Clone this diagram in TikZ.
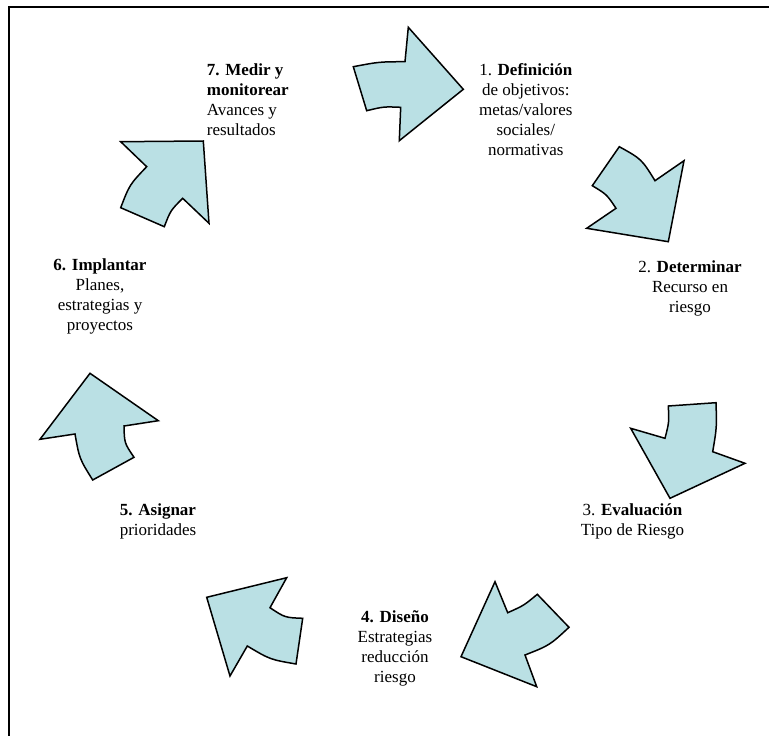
\documentclass[tikz,border=0pt]{standalone}
\usepackage{fontspec}
\setmainfont{Liberation Serif}
\definecolor{arrowfill}{RGB}{186,224,228}
\tikzset{
  cyclearrow/.style={draw=black, fill=arrowfill, line width=1.5pt, line join=miter},
  label/.style={align=center, inner sep=0pt, font=\fontsize{17}{20}\selectfont},
  frameline/.style={draw=black, line width=2pt}
}
\begin{document}
\begin{tikzpicture}[x=1pt,y=-1pt]
\useasboundingbox (0,0) rectangle (769,736);
% frame
\draw[frameline] (8.5,740) -- (8.5,7) -- (772,7);

% arrow 1 (top, pointing right)
\draw[cyclearrow] (353.3,66.7) .. controls (379.2,61.8) .. (405,61.7) -- (408.3,27.3) -- (463.3,89.3)
  -- (399.3,140.7) -- (400.7,107.3) .. controls (383.7,106.6) .. (366.7,110.7) -- cycle;
% arrow 2 (upper right, pointing down-right)
\draw[cyclearrow] (619.3,146.7) .. controls (641.6,159.1) .. (655,180.7) -- (684,160.7) -- (668.3,241.7)
  -- (586.7,228.3) -- (616,208.3) .. controls (606.7,194.4) .. (592.3,185.7) -- cycle;
% arrow 3 (right, pointing down)
\draw[cyclearrow] (668.3,406) -- (716,402.7) .. controls (716.8,427.4) .. (712.7,451.7) -- (745,463.3)
  -- (670,498.3) -- (630.7,428.3) -- (665,438.3) .. controls (669.1,422.3) .. cycle;
% arrow 4 (lower right, pointing down-left)
\draw[cyclearrow] (495,581.7) -- (507.7,612.7) .. controls (523.8,605.5) .. (537.3,594.3) -- (569,627.3)
  .. controls (549.6,645.3) .. (525,655) -- (536.7,686.7) -- (461,656.7) -- cycle;
% arrow 5 (bottom left, pointing left)
\draw[cyclearrow] (286.7,577.7) -- (270,607.7) .. controls (284.9,617.6) .. (302.7,618.3) -- (296,664)
  .. controls (270,659.5) .. (247.3,646) -- (230,676) -- (206.7,597.3) -- cycle;
% arrow 6 (left, pointing up)
\draw[cyclearrow] (90,373.3) -- (158.3,420.7) -- (124,426) .. controls (124.4,443.1) .. (134,457.3)
  -- (92.7,480) .. controls (79.4,458.7) .. (75,434) -- (40,439.3) -- cycle;
% arrow 7 (upper left, pointing up-right)
\draw[cyclearrow] (120.7,141.7) -- (203.3,141) -- (209,223.3) -- (182.7,198.3)
  .. controls (170.5,210.5) .. (164.3,226.7) -- (120.7,207.7) .. controls (129.6,184.6) .. (146.7,166.7) -- cycle;

% labels
\node[label] (t1) at (525.8,110) {1. \textbf{Definición}\\de objetivos:\\metas/valores\\sociales/\\normativas};
\node[label] (t2) at (690,288) {2. \textbf{Determinar}\\Recurso en\\riesgo};
\node[label] (t3) at (632.5,521.7) {3. \textbf{Evaluación}\\Tipo de Riesgo};
\node[label] (t4) at (395,648) {\textbf{4. Diseño}\\Estrategias\\reducción\\riesgo};
\node[label] (t5) at (158,521.7) {\textbf{5. Asignar}\\prioridades};
\node[label] (t6) at (100,296.7) {\textbf{6. Implantar}\\Planes,\\estrategias y\\proyectos};
\node[label, align=left, anchor=west] (t7) at (206.7,100) {\textbf{7. Medir y}\\\textbf{monitorear}\\Avances y\\resultados};
\end{tikzpicture}
\end{document}
